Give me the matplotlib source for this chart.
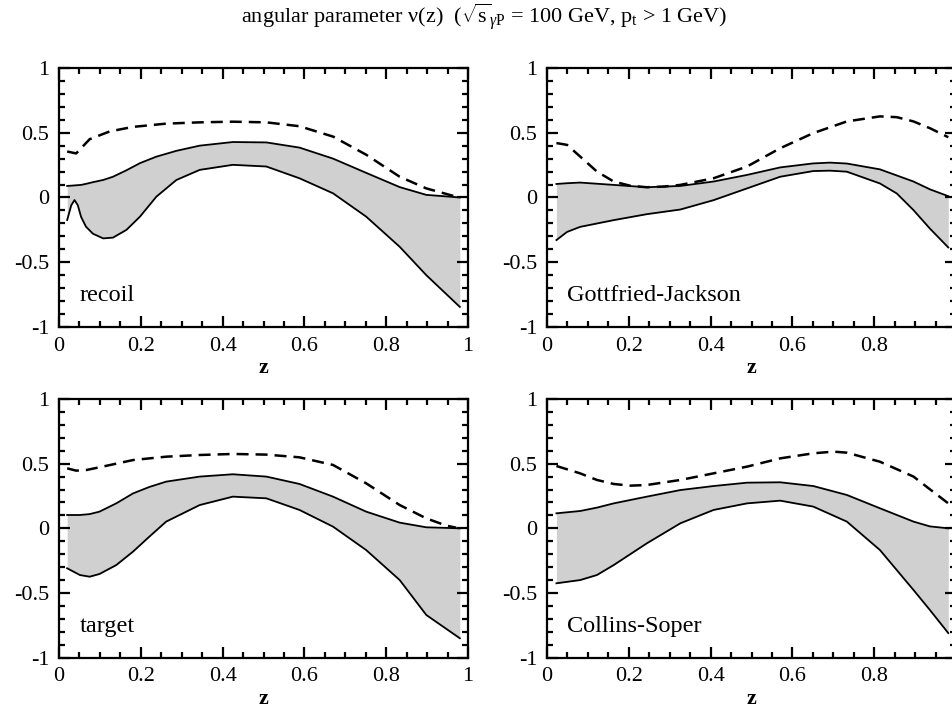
import numpy as np
import matplotlib
matplotlib.use("Agg")
import matplotlib.pyplot as plt
from matplotlib.ticker import MultipleLocator

plt.rcParams['font.family'] = ['Liberation Serif', 'DejaVu Serif']
plt.rcParams['mathtext.fontset'] = 'custom'
plt.rcParams['mathtext.rm'] = 'Liberation Serif'
plt.rcParams['mathtext.it'] = 'Liberation Serif:italic'

# ---- data ----
# recoil
rec_dash_z = [0.02, 0.042, 0.075, 0.124, 0.181, 0.262, 0.344, 0.425, 0.507, 0.588, 0.67, 0.751, 0.833, 0.898, 0.947, 0.971]
rec_dash_v = [0.355, 0.34, 0.45, 0.51, 0.545, 0.57, 0.58, 0.585, 0.58, 0.55, 0.47, 0.33, 0.16, 0.07, 0.027, 0.006]
rec_z = [0.02, 0.03, 0.038, 0.046, 0.054, 0.066, 0.083, 0.108, 0.132, 0.165, 0.198, 0.238, 0.287, 0.344, 0.425, 0.507, 0.588, 0.67, 0.751, 0.833, 0.898, 0.98]
rec_hi = [0.089, 0.091, 0.093, 0.095, 0.097, 0.105, 0.118, 0.135, 0.16, 0.21, 0.265, 0.315, 0.36, 0.4, 0.428, 0.425, 0.385, 0.3, 0.19, 0.08, 0.02, 0.0]
rec_lo = [-0.174, -0.06, -0.02, -0.06, -0.15, -0.226, -0.28, -0.316, -0.31, -0.25, -0.148, 0.006, 0.135, 0.213, 0.252, 0.239, 0.148, 0.032, -0.148, -0.381, -0.6, -0.845]

# Gottfried-Jackson
gj_dash_z = [0.023, 0.049, 0.081, 0.122, 0.163, 0.204, 0.244, 0.285, 0.326, 0.407, 0.489, 0.57, 0.651, 0.733, 0.814, 0.855, 0.896, 0.936, 0.981]
gj_dash_v = [0.42, 0.406, 0.316, 0.2, 0.123, 0.09, 0.079, 0.084, 0.097, 0.148, 0.239, 0.38, 0.497, 0.587, 0.626, 0.62, 0.587, 0.535, 0.465]
gj_z = [0.023, 0.049, 0.081, 0.163, 0.244, 0.326, 0.407, 0.489, 0.57, 0.651, 0.692, 0.733, 0.814, 0.855, 0.896, 0.936, 0.981]
gj_hi = [0.104, 0.11, 0.115, 0.097, 0.079, 0.089, 0.123, 0.174, 0.232, 0.263, 0.269, 0.262, 0.217, 0.17, 0.123, 0.063, 0.01]
gj_lo = [-0.329, -0.266, -0.227, -0.175, -0.129, -0.093, -0.021, 0.07, 0.16, 0.204, 0.207, 0.199, 0.108, 0.031, -0.098, -0.24, -0.386]

# target
tg_dash_z = [0.02, 0.042, 0.067, 0.099, 0.181, 0.262, 0.344, 0.425, 0.507, 0.588, 0.67, 0.751, 0.833, 0.898, 0.947, 0.971]
tg_dash_v = [0.464, 0.446, 0.451, 0.472, 0.528, 0.554, 0.567, 0.575, 0.57, 0.549, 0.49, 0.348, 0.18, 0.077, 0.021, 0.005]
tg_z = [0.02, 0.051, 0.075, 0.099, 0.14, 0.181, 0.221, 0.262, 0.344, 0.425, 0.507, 0.588, 0.67, 0.751, 0.833, 0.898, 0.98]
tg_hi = [0.103, 0.103, 0.11, 0.129, 0.193, 0.27, 0.32, 0.361, 0.4, 0.418, 0.4, 0.343, 0.245, 0.129, 0.044, 0.008, 0.0]
tg_lo = [-0.309, -0.361, -0.374, -0.353, -0.284, -0.18, -0.064, 0.052, 0.18, 0.245, 0.232, 0.142, 0.013, -0.168, -0.4, -0.67, -0.85]

# Collins-Soper
cs_dash_z = [0.023, 0.081, 0.122, 0.163, 0.204, 0.244, 0.326, 0.407, 0.489, 0.57, 0.651, 0.7, 0.733, 0.814, 0.896, 0.936, 0.981]
cs_dash_v = [0.482, 0.425, 0.374, 0.343, 0.33, 0.335, 0.374, 0.425, 0.477, 0.541, 0.58, 0.593, 0.585, 0.515, 0.4, 0.302, 0.193]
cs_z = [0.023, 0.081, 0.122, 0.163, 0.244, 0.326, 0.407, 0.489, 0.57, 0.651, 0.733, 0.814, 0.896, 0.936, 0.981]
cs_hi = [0.116, 0.134, 0.16, 0.193, 0.245, 0.296, 0.327, 0.353, 0.356, 0.327, 0.258, 0.155, 0.052, 0.015, 0.0]
cs_lo = [-0.425, -0.4, -0.361, -0.284, -0.116, 0.039, 0.142, 0.193, 0.214, 0.168, 0.052, -0.168, -0.477, -0.631, -0.81]

panels = [
    ("recoil", rec_dash_z, rec_dash_v, rec_z, rec_hi, rec_lo),
    ("Gottfried-Jackson", gj_dash_z, gj_dash_v, gj_z, gj_hi, gj_lo),
    ("target", tg_dash_z, tg_dash_v, tg_z, tg_hi, tg_lo),
    ("Collins-Soper", cs_dash_z, cs_dash_v, cs_z, cs_hi, cs_lo),
]

# axes rectangles in figure fractions (right column runs past the edge, as in the scan)
rects = [
    [0.0619, 0.5414, 0.4292, 0.3633],
    [0.574, 0.5414, 0.4292, 0.3633],
    [0.0619, 0.0776, 0.4292, 0.3628],
    [0.574, 0.0776, 0.4292, 0.3628],
]

fig = plt.figure(figsize=(9.53, 7.13), dpi=100)

for i, ((name, dz, dv, bz, hi, lo), r) in enumerate(zip(panels, rects)):
    ax = fig.add_axes(r)
    ax.fill_between(bz, lo, hi, color='#d0d0d0', lw=0)
    ax.plot(bz, hi, color='black', lw=1.3)
    ax.plot(bz, lo, color='black', lw=1.3)
    ax.plot(dz, dv, color='black', lw=1.8, ls=(0, (4.8, 2.8)))
    ax.set_xlim(0, 1)
    ax.set_ylim(-1, 1)
    ax.xaxis.set_minor_locator(MultipleLocator(0.05))
    ax.yaxis.set_minor_locator(MultipleLocator(0.1))
    ax.set_xticks([0, 0.2, 0.4, 0.6, 0.8, 1.0])
    if i % 2 == 0:
        ax.set_xticklabels(['0', '0.2', '0.4', '0.6', '0.8', '1'])
    else:
        ax.set_xticklabels(['0', '0.2', '0.4', '0.6', '0.8', ''])
    ax.set_yticks([-1, -0.5, 0, 0.5, 1])
    ax.set_yticklabels(['-1', '-0.5', '0', '0.5', '1'])
    ax.tick_params(which='both', direction='in', top=True, right=True, labelsize=16, width=1.6)
    ax.tick_params(which='major', length=8, pad=7)
    ax.tick_params(which='minor', length=4)
    for s in ax.spines.values():
        s.set_linewidth(1.6)
    ax.set_xlabel('z', fontsize=16, fontweight='bold', labelpad=2)
    ax.text(0.05, -0.76, name, fontsize=17.5, va='center', ha='left')

fig.text(0.508, 0.977,
         r"angular parameter ν(z)  ($\sqrt{\mathrm{s}}_{\gamma\mathrm{P}}$ = 100 GeV, p$_\mathrm{t}$ > 1 GeV)",
         fontsize=16, ha='center', va='center')

fig.savefig('out.png', dpi=100)
